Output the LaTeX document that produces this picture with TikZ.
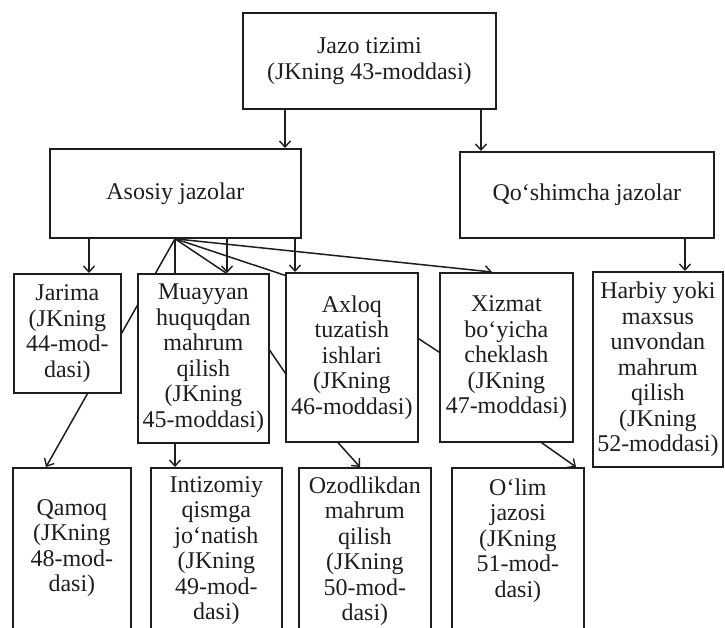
\documentclass[tikz,border=0pt]{standalone}
\usepackage{fontspec}
\setmainfont{Liberation Serif}
\usetikzlibrary{arrows.meta}
\definecolor{ink}{HTML}{1E1E1E}
\pgfdeclarelayer{bg}
\pgfsetlayers{bg,main}
\begin{document}
\begin{tikzpicture}[x=1pt,y=-1pt,
  box/.style={draw=ink, fill=white, line width=1.8pt, inner sep=0pt, align=center,
    font=\fontsize{24}{25.5}\selectfont, anchor=north west, text=ink},
  txt/.style={inner sep=0pt, align=center, font=\fontsize{24}{25.5}\selectfont, anchor=north, text=ink},
  conn/.style={draw=ink, line width=1.5pt, line join=round},
  arr/.style={conn, -{Straight Barb[length=6pt,width=11pt,line width=1.4pt]}}]
\useasboundingbox (0,0) rectangle (725,628);
\clip (0,0) rectangle (725,628);

% boxes
\node[box, minimum width=253pt, minimum height=96pt] (top) at (242,12) {Jazo tizimi\\(JKning 43-moddasi)};
\node[box, minimum width=251pt, minimum height=89pt] (asosiy) at (49,148) {Asosiy jazolar};
\node[box, minimum width=254pt, minimum height=86pt] (qosh) at (459,151) {Qo‘shimcha jazolar};
\node[box, minimum width=107pt, minimum height=119pt] (jarima) at (13,273) {Jarima\\(JKning\\44-mod-\\dasi)};
\node[box, minimum width=131pt, minimum height=169pt] (muayyan) at (137,273) {Muayyan\\huquqdan\\mahrum\\qilish\\(JKning\\45-moddasi)};
\node[box, minimum width=132pt, minimum height=169pt] (axloq) at (285,272) {Axloq\\tuzatish\\ishlari\\(JKning\\46-moddasi)};
\node[box, minimum width=133pt, minimum height=169pt] (xizmat) at (439,272) {Xizmat\\bo‘yicha\\cheklash\\(JKning\\47-moddasi)};
\node[box, minimum width=130pt, minimum height=195pt] (harbiy) at (592,271) {Harbiy yoki\\maxsus\\unvondan\\mahrum\\qilish\\(JKning\\52-moddasi)};
\node[box, minimum width=118pt, minimum height=200pt] (qamoq) at (12,467) {};
\node[box, minimum width=131pt, minimum height=200pt] (intizom) at (150,467) {};
\node[box, minimum width=132pt, minimum height=200pt] (ozod) at (298,467) {};
\node[box, minimum width=132pt, minimum height=200pt] (olim) at (451,467) {};

\node[txt] (tqamoq) at ([yshift=-30pt]qamoq.north) {\strut Qamoq\\(JKning\\48-mod-\\dasi)};
\node[txt] (tintizom) at ([yshift=-7pt]intizom.north) {\strut Intizomiy\\qismga\\jo‘natish\\(JKning\\49-mod-\\dasi)};
\node[txt] (tozod) at ([yshift=-8pt]ozod.north) {\strut Ozodlikdan\\mahrum\\qilish\\(JKning\\50-mod-\\dasi)};
\node[txt] (tolim) at ([yshift=-10pt]olim.north) {\strut O‘lim\\jazosi\\(JKning\\51-mod-\\dasi)};

% connectors
\begin{pgfonlayer}{bg}
\fill[white] (0,0) rectangle (725,628);
\coordinate (fan) at ([xshift=126pt]asosiy.south west);
\coordinate (t1) at ([xshift=43pt]top.south west);
\coordinate (t2) at ([xshift=239pt]top.south west);
\coordinate (s1) at ([xshift=40pt]asosiy.south west);
\coordinate (s2) at ([xshift=178pt]asosiy.south west);
\coordinate (s3) at ([xshift=246pt]asosiy.south west);
\coordinate (q1) at ([xshift=226pt]qosh.south west);
\draw[arr] (t1) -- (t1 |- asosiy.north);
\draw[arr] (t2) -- (t2 |- qosh.north);
\draw[arr] (s1) -- (s1 |- jarima.north);
\draw[arr] (s2) -- (s2 |- muayyan.north);
\draw[arr] (s3) -- (s3 |- axloq.north);
\draw[arr] (q1) -- (q1 |- harbiy.north);
\draw[arr] (fan) -- ([xshift=34pt]qamoq.north west);
\draw[arr] (fan) -- (fan |- intizom.north);
\draw[arr] (fan) -- ([xshift=53pt]xizmat.north west);
\draw[arr] (fan) -- (232,277) -- (262,339) -- (292,383) -- (332,436) -- ([xshift=62pt]ozod.north west);
\draw[arr] (fan) -- (290,277) -- (410,333) -- (445,356) -- (535,438) -- ([xshift=125pt]olim.north west);
\end{pgfonlayer}
\end{tikzpicture}
\end{document}
